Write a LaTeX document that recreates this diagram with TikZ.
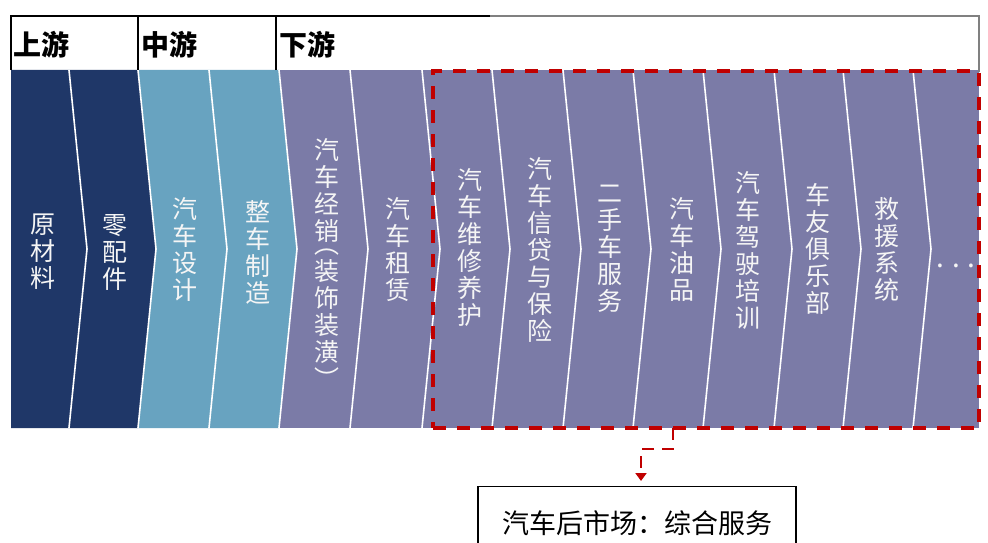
\documentclass[tikz,border=0pt]{standalone}
\usepackage{fontspec}
\setmainfont{Noto Sans CJK SC}
\usetikzlibrary{arrows.meta}
\definecolor{navy}{RGB}{31,55,104}
\definecolor{lblue}{RGB}{104,163,192}
\definecolor{purp}{RGB}{123,123,167}
\definecolor{dred}{RGB}{192,0,0}
\definecolor{hgray}{RGB}{128,128,128}
\begin{document}
\begin{tikzpicture}[x=1pt,y=-1pt,
  sepline/.style={white, line width=1.6pt},
  vtext/.style={text=white!96!black, align=center, inner sep=0pt, font=\fontsize{25}{27}\selectfont},
  head/.style={anchor=west, inner sep=0pt, font=\fontsize{28}{30}\selectfont\bfseries},
  hline/.style={black, line width=1.5pt}]
\path[use as bounding box] (0,0) rectangle (988,543);
% band
\fill[purp] (11,70) rectangle (979,428);
\fill[navy] (11,70) -- (138,70) -- (156,249) -- (138,428) -- (11,428) -- cycle;
\fill[lblue] (138,70) -- (279,70) -- (297,249) -- (279,428) -- (138,428) -- (156,249) -- cycle;
\foreach \b in {69,138,209,279,350,422,492,563,633,703,774,843,913}
  \draw[sepline] (\b,70) -- (\b+18,249) -- (\b,428);
% texts
\node[vtext] (t1) at (43,252) {原\\材\\料};
\node[vtext] (t2) at (115,252) {零\\配\\件};
\node[vtext] (t3) at (185,249) {汽\\车\\设\\计};
\node[vtext] (t4) at (258,252) {整\\车\\制\\造};
\node[vtext] (t5) at (327,263) {汽\\车\\经\\销\\[-14pt]︵\\装\\饰\\装\\潢\\︶};
\node[vtext] (t6) at (398,250) {汽\\车\\租\\赁};
\node[vtext] (t7) at (470,248) {汽\\车\\维\\修\\养\\护};
\node[vtext] (t8) at (540,250) {汽\\车\\信\\贷\\与\\保\\险};
\node[vtext] (t9) at (610,249) {二\\手\\车\\服\\务};
\node[vtext] (t10) at (682,249) {汽\\车\\油\\品};
\node[vtext] (t11) at (748,250) {汽\\车\\驾\\驶\\培\\训};
\node[vtext] (t12) at (818,249) {车\\友\\俱\\乐\\部};
\node[vtext] (t13) at (887,249) {救\\援\\系\\统};
\node[text=white!96!black, inner sep=0pt, font=\fontsize{28}{28}\selectfont] (t14) at (956,266) {.\hspace{7.5pt}.\hspace{7.5pt}.};
% header
\draw[hline] (11,70) -- (11,16) -- (490,16);
\draw[hline] (138,16) -- (138,70);
\draw[black, line width=2.6pt] (276,16) -- (276,70);
\draw[hgray, line width=2pt] (490,16) -- (979,16) -- (979,72);
\node[head] (h1) at (13,45) {上游};
\node[head] (h2) at (141,45) {中游};
\node[head] (h3) at (279,45) {下游};
% after-market frame
\node[draw=dred, line width=3.2pt, dash pattern=on 13pt off 11pt, minimum width=546pt, minimum height=357pt, inner sep=0pt, outer sep=0pt, anchor=north west] (after) at (433,71) {};
\node[draw=black, line width=1.2pt, minimum width=318pt, minimum height=74pt, anchor=north, inner sep=0pt, font=\fontsize{27}{30}\selectfont] (market) at (637,486) {汽车后市场：综合服务};
\coordinate (cx) at (673,0);
\draw[dred, line width=2.8pt, dash pattern=on 12pt off 8pt, -{Triangle[width=11pt,length=8pt]}] (after.south -| cx) -- ++(0,21) -| ([xshift=4pt,yshift=5pt]market.north);
\end{tikzpicture}
\end{document}
